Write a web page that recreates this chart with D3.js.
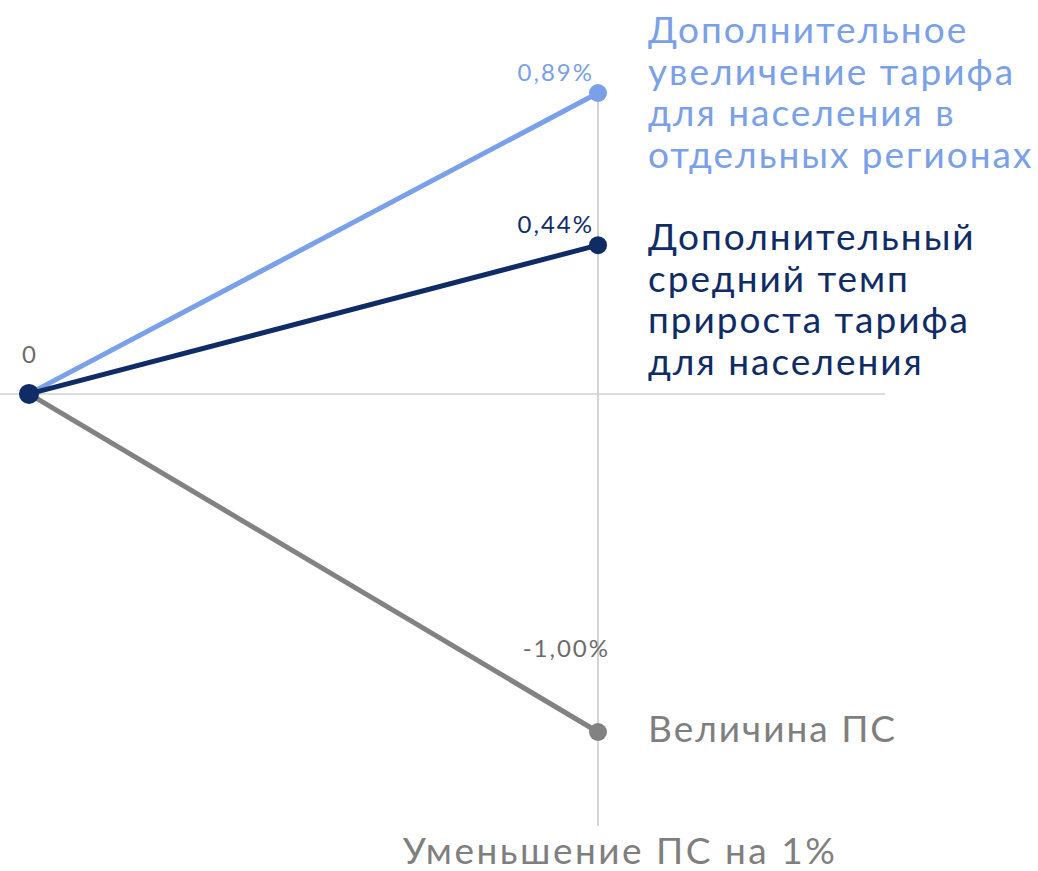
<!DOCTYPE html>
<html lang="ru">
<head>
    <meta charset="UTF-8">
    <title>ПС</title>
    <script src="https://cdn.jsdelivr.net/npm/d3@7.8.5/dist/d3.min.js"></script>
    <style>
        body { margin: 0; background: #fff; }
        text { font-family: Lato, "Open Sans", sans-serif; }
    </style>
</head>
<body>
<div id="chart"></div>
<script type="text/javascript">
    // data
    const steps = ["0", "Уменьшение ПС на 1%"];
    const seriesNames = [
        ["Дополнительное", "увеличение тарифа", "для населения в", "отдельных регионах"],
        ["Дополнительный", "средний темп", "прироста тарифа", "для населения"],
        ["Величина ПС"]
    ];
    const seriesValues = [
        [0, 0.89],
        [0, 0.44],
        [0, -1.00]
    ];
    const valueLabels = ["0,89%", "0,44%", "-1,00%"];
    const colors = ["#7aa0e9", "#0f2c66", "#828282"];

    const width = 1038, height = 871;

    const x = d3.scalePoint().domain(steps).range([29, 598]);
    const y = d3.scaleLinear().domain([-1, 0.89]).range([732, 93]);

    const svg = d3.select("#chart").append("svg")
        .attr("width", width).attr("height", height);

    // grid
    svg.append("line")
        .attr("x1", 0).attr("x2", 885)
        .attr("y1", y(0)).attr("y2", y(0))
        .attr("stroke", "#dcdcdc").attr("stroke-width", 2);
    svg.append("line")
        .attr("x1", x(steps[1])).attr("x2", x(steps[1]))
        .attr("y1", y(0.89)).attr("y2", 826)
        .attr("stroke", "#d4d4d4").attr("stroke-width", 2);

    const line = d3.line()
        .x((d, i) => x(steps[i]))
        .y(d => y(d));

    // gray first so the dark one ends on top
    const order = [2, 0, 1];
    order.forEach(k => {
        svg.append("path")
            .attr("d", line(seriesValues[k]))
            .attr("fill", "none")
            .attr("stroke", colors[k])
            .attr("stroke-width", 5);
        svg.append("circle")
            .attr("cx", x(steps[1])).attr("cy", y(seriesValues[k][1]))
            .attr("r", 9).attr("fill", colors[k]);
    });
    svg.append("circle")
        .attr("cx", x(steps[0])).attr("cy", y(0))
        .attr("r", 10).attr("fill", colors[1]);

    // value labels
    svg.append("text")
        .attr("x", x(steps[0])).attr("y", y(0) - 31)
        .attr("text-anchor", "middle")
        .attr("font-size", 24).attr("fill", "#6b6b6b")
        .text(steps[0]);

    valueLabels.forEach((t, k) => {
        svg.append("text")
            .attr("x", k === 2 ? x(steps[1]) + 12 : x(steps[1]) - 4)
            .attr("y", k === 2 ? y(seriesValues[k][1]) - 75 : y(seriesValues[k][1]) - 12)
            .attr("text-anchor", "end")
            .attr("font-size", 24)
            .attr("letter-spacing", 2)
            .attr("fill", k === 2 ? "#6b6b6b" : colors[k])
            .text(t);
    });

    // series names
    const nameTop = [43, 250, 742];
    seriesNames.forEach((lines, k) => {
        const t = svg.append("text")
            .attr("x", 648).attr("y", nameTop[k])
            .attr("font-size", 37)
            .attr("letter-spacing", 2)
            .attr("fill", k === 2 ? "#7f7f7f" : colors[k]);
        lines.forEach((s, i) => {
            t.append("tspan").attr("x", 648).attr("dy", i === 0 ? 0 : 41.5).text(s);
        });
    });

    // x label
    svg.append("text")
        .attr("x", 620).attr("y", 864)
        .attr("text-anchor", "middle")
        .attr("font-size", 37).attr("fill", "#7f7f7f")
        .attr("letter-spacing", 2.5)
        .text(steps[1]);
</script>
</body>
</html>
